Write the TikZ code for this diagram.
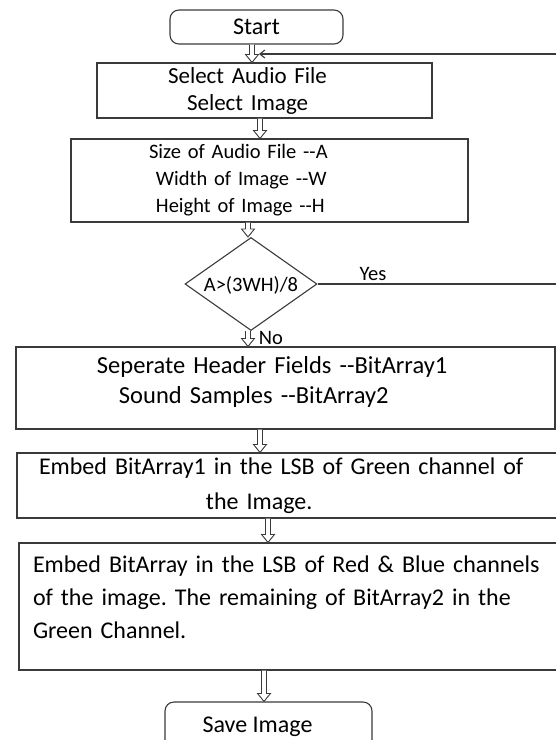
\documentclass[tikz,border=0pt]{standalone}
\usepackage{fontspec}
\setmainfont{Carlito}
\frenchspacing
\usetikzlibrary{arrows.meta, positioning, shapes.geometric, calc}
\definecolor{cline}{HTML}{3A3A3A}
\tikzset{
  every picture/.style={line width=1.1pt},
  box/.style={draw=cline, rectangle, inner xsep=0pt, inner ysep=0pt, align=left, font=\fontsize{24.5}{30}\selectfont},
  term/.style={draw=cline, rounded corners=9pt, align=center, inner sep=0pt, font=\fontsize{24}{30}\selectfont},
  dec/.style={draw=cline, diamond, aspect=1.42, inner sep=0pt, text height=14pt, text depth=0pt, font=\fontsize{20.5}{26}\selectfont},
  lbl/.style={inner sep=0pt, font=\fontsize{20.5}{26}\selectfont},
  flowline/.style={draw=cline, fill=white, line width=0.9pt},
  loopline/.style={draw=cline, line width=1.1pt, -{Straight Barb[length=5pt, width=8pt]}},
}
\newcommand{\flow}[3]{%
  \coordinate (fa) at (#2.south -| #1,0);
  \coordinate (fb) at (#3.north -| #1,0);
  \draw[flowline] ($(fa)+(-2.5pt,0)$) -- ($(fb)+(-2.5pt,8pt)$) -- ++(-4pt,0) -- (fb)
    -- ++(6.5pt,8pt) -- ++(-4pt,0) -- ($(fa)+(2.5pt,0)$);}

\begin{document}
\begin{tikzpicture}[x=1pt, y=-1pt]
  \useasboundingbox (0,0) rectangle (556,740);
  \node[term, minimum width=173pt, minimum height=34pt] (start) at (256.5,27) {Start};
  \node[box, text width=335pt, minimum height=55pt, font=\fontsize{23}{27}\selectfont] (select) at (264.5,90.5)
    {\hspace*{71pt}Select Audio File\\\hspace*{90pt}Select Image};
  \node[box, text width=397pt, minimum height=83pt, font=\fontsize{20.5}{27}\selectfont] (size) at (269.5,180.5)
    {\hspace*{78pt}Size of Audio File -{}-A\\\hspace*{85pt}Width of Image -{}-W\\\hspace*{85pt}Height of Image -{}-H};
  \node[dec, minimum width=132pt, minimum height=93pt] (test) at (251,284) {A>(3WH)/8};
  \node[lbl] (yes) at (373,274) {Yes};
  \node[lbl] (no) at (271,338) {No};
  \node[box, text width=539pt, minimum height=82pt] (sep) at (285.5,388)
    {\hspace*{81pt}Seperate Header Fields -{}-BitArray1\\\hspace*{103pt}Sound Samples -{}-BitArray2\rule[-16pt]{0pt}{0pt}};
  \node[box, text width=560pt, minimum height=65pt, font=\fontsize{24}{35}\selectfont] (embedA) at (297,485.5)
    {\hspace*{22pt}Embed BitArray1 in the LSB of Green channel of\\\hspace*{189pt}the Image.};
  \node[box, text width=560pt, minimum height=127pt, font=\fontsize{24}{33}\selectfont] (embedB) at (299,606.5)
    {\hspace*{14pt}Embed BitArray in the LSB of Red \& Blue channels\\\hspace*{14pt}of the image. The remaining of BitArray2 in the\\\hspace*{14pt}Green Channel.\rule[-18pt]{0pt}{0pt}};
  \node[term, minimum width=207pt, minimum height=50pt] (save) at (268.5,727) {Save Image\hspace*{22pt}};
  \flow{252}{start}{select}
  \flow{260}{select}{size}
  \flow{248}{size}{test}
  \flow{248}{test}{sep}
  \flow{260}{sep}{embedA}
  \flow{268}{embedA}{embedB}
  \flow{264}{embedB}{save}
  \coordinate (turn) at (580,54);
  \coordinate (back) at (259,54);
  \draw[loopline] (test.east) -| (turn) -- (back);
\end{tikzpicture}
\end{document}
